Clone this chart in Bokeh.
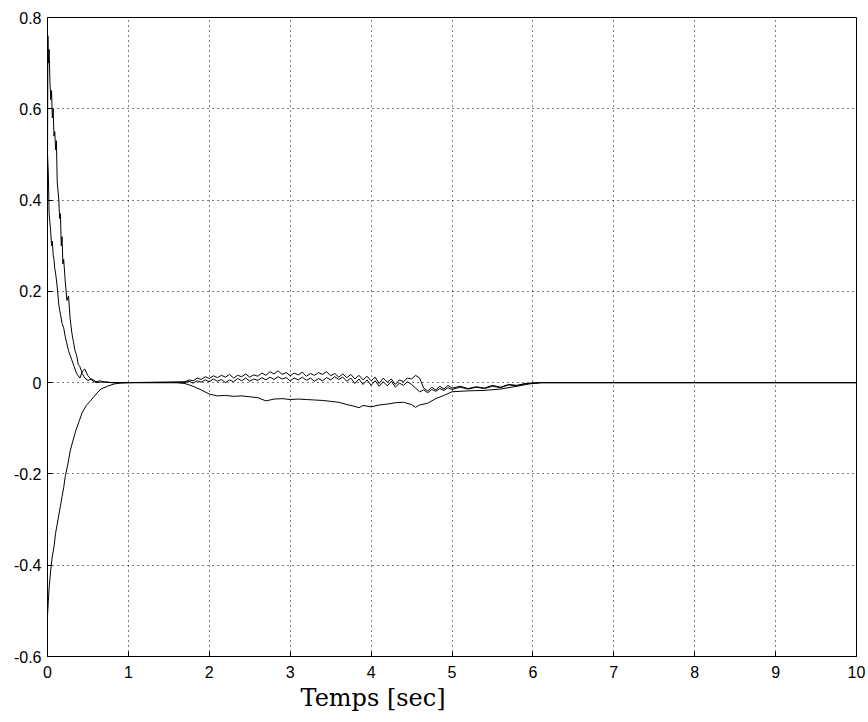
from bokeh.plotting import figure
from bokeh.models import Range1d, FixedTicker, Title
from bokeh.embed import file_html
from bokeh.resources import INLINE

# ---- data ----
# curve A: starts near 0.75
a_t = [0, 0.005, 0.01, 0.02, 0.03, 0.04, 0.05, 0.06, 0.07, 0.08, 0.09, 0.10, 0.11, 0.12,
       0.13, 0.14, 0.15, 0.16, 0.17, 0.18, 0.19, 0.20, 0.22, 0.24, 0.26, 0.28, 0.30, 0.32,
       0.34, 0.36, 0.38, 0.40, 0.43, 0.46, 0.50, 0.55, 0.60, 0.65, 0.70, 0.80, 1.0, 1.7,
       1.75, 1.80, 1.85, 1.90, 1.95, 2.00, 2.05, 2.10, 2.15, 2.20, 2.25, 2.30, 2.35, 2.40,
       2.45, 2.50, 2.55, 2.60, 2.65, 2.70, 2.75, 2.80, 2.85, 2.90, 2.95, 3.00, 3.05, 3.10,
       3.15, 3.20, 3.25, 3.30, 3.35, 3.40, 3.45, 3.50, 3.55, 3.60, 3.65, 3.70, 3.75, 3.80,
       3.85, 3.90, 3.95, 4.00, 4.05, 4.10, 4.15, 4.20, 4.25, 4.30, 4.35, 4.40, 4.45, 4.50,
       4.55, 4.60, 4.65, 4.70, 4.75, 4.80, 4.85, 4.90, 4.95, 5.00, 5.10, 5.20, 5.30, 5.40,
       5.50, 5.60, 5.70, 5.80, 5.90, 6.00, 6.10, 10.0]
a_v = [0.47, 0.76, 0.70, 0.73, 0.66, 0.62, 0.64, 0.58, 0.60, 0.54, 0.55, 0.51, 0.53, 0.44,
       0.42, 0.40, 0.36, 0.37, 0.30, 0.32, 0.26, 0.27, 0.22, 0.18, 0.19, 0.14, 0.11, 0.09,
       0.07, 0.06, 0.04, 0.035, 0.02, 0.01, 0.005, 0.008, 0.002, 0.004, 0.001, 0.0, 0.0, 0.002,
       0.006, 0.004, 0.010, 0.007, 0.013, 0.009, 0.015, 0.011, 0.016, 0.012, 0.018, 0.010, 0.016, 0.013,
       0.019, 0.012, 0.017, 0.014, 0.021, 0.016, 0.024, 0.019, 0.026, 0.018, 0.022, 0.015, 0.021, 0.017,
       0.023, 0.014, 0.020, 0.016, 0.022, 0.018, 0.024, 0.015, 0.020, 0.012, 0.019, 0.011, 0.018, 0.008,
       0.016, 0.006, 0.014, 0.004, 0.012, -0.002, 0.010, 0.001, 0.008, -0.004, 0.006, 0.002, 0.010, 0.008,
       0.016, 0.010, -0.012, -0.018, -0.010, -0.016, -0.008, -0.014, -0.006, -0.012, -0.008, -0.013, -0.009, -0.012,
       -0.006, -0.010, -0.004, -0.006, -0.002, -0.001, 0.0, 0.0]

# curve B: starts near 0.5
b_t = [0, 0.01, 0.02, 0.03, 0.04, 0.05, 0.06, 0.07, 0.08, 0.09, 0.10, 0.12, 0.14, 0.16,
       0.18, 0.20, 0.22, 0.24, 0.26, 0.28, 0.30, 0.33, 0.36, 0.40, 0.43, 0.46, 0.50, 0.55,
       0.60, 0.70, 0.80, 1.0, 1.7,
       1.75, 1.80, 1.85, 1.90, 1.95, 2.00, 2.05, 2.10, 2.15, 2.20, 2.25, 2.30, 2.35, 2.40,
       2.45, 2.50, 2.55, 2.60, 2.65, 2.70, 2.75, 2.80, 2.85, 2.90, 2.95, 3.00, 3.05, 3.10,
       3.15, 3.20, 3.25, 3.30, 3.35, 3.40, 3.45, 3.50, 3.55, 3.60, 3.65, 3.70, 3.75, 3.80,
       3.85, 3.90, 3.95, 4.00, 4.05, 4.10, 4.15, 4.20, 4.25, 4.30, 4.35, 4.40, 4.45, 4.50,
       4.55, 4.60, 4.65, 4.70, 4.75, 4.80, 4.85, 4.90, 4.95, 5.00, 5.10, 5.20, 5.30, 5.40,
       5.50, 5.60, 5.70, 5.80, 5.90, 6.00, 6.10, 10.0]
b_v = [0.50, 0.46, 0.37, 0.35, 0.33, 0.30, 0.31, 0.28, 0.27, 0.25, 0.24, 0.21, 0.17, 0.15,
       0.13, 0.12, 0.10, 0.085, 0.07, 0.06, 0.05, 0.035, 0.02, 0.01, 0.025, 0.03, 0.015, 0.005,
       0.0, 0.002, 0.0, 0.0, 0.0,
       0.003, -0.001, 0.004, 0.001, 0.006, 0.002, 0.008, 0.003, 0.007, 0.000, 0.006, 0.002, 0.009, 0.004,
       0.010, 0.003, 0.008, 0.005, 0.011, 0.006, 0.012, 0.007, 0.013, 0.008, 0.011, 0.004, 0.010, 0.006,
       0.012, 0.005, 0.010, 0.003, 0.009, 0.004, 0.011, 0.006, 0.013, 0.007, 0.012, 0.003, 0.010, -0.002,
       0.008, -0.004, 0.006, -0.006, 0.004, -0.008, 0.002, -0.007, 0.003, -0.010, -0.001, -0.006, 0.002, -0.004,
       -0.012, -0.020, -0.016, -0.022, -0.015, -0.019, -0.013, -0.017, -0.011, -0.015, -0.010, -0.014, -0.010, -0.013,
       -0.008, -0.011, -0.005, -0.007, -0.003, -0.001, 0.0, 0.0]

# curve C: starts near -0.5, negative bump between 1.7 and 6 s
c_t = [0, 0.01, 0.02, 0.03, 0.04, 0.06, 0.08, 0.10, 0.12, 0.14, 0.16, 0.18, 0.20, 0.22,
       0.25, 0.28, 0.31, 0.35, 0.39, 0.43, 0.48, 0.53, 0.60, 0.66, 0.74, 0.82, 0.90, 1.0,
       1.6, 1.7, 1.8, 1.9, 2.0, 2.1, 2.2, 2.3, 2.4, 2.5, 2.6, 2.7, 2.8, 2.9, 3.0, 3.1,
       3.2, 3.3, 3.4, 3.5, 3.6, 3.7, 3.8, 3.85, 3.9, 4.0, 4.1, 4.2, 4.3, 4.4, 4.5, 4.55,
       4.6, 4.7, 4.8, 4.9, 5.0, 5.2, 5.4, 5.6, 5.8, 5.95, 6.1, 10.0]
c_v = [-0.51, -0.48, -0.45, -0.43, -0.41, -0.38, -0.36, -0.33, -0.31, -0.29, -0.27, -0.25, -0.23, -0.205,
       -0.18, -0.15, -0.13, -0.105, -0.085, -0.065, -0.05, -0.04, -0.025, -0.014, -0.008, -0.003, -0.001, 0.0,
       0.0, -0.002, -0.008, -0.016, -0.025, -0.029, -0.028, -0.030, -0.029, -0.031, -0.033, -0.040, -0.036, -0.035, -0.037, -0.036,
       -0.037, -0.038, -0.039, -0.041, -0.043, -0.048, -0.052, -0.055, -0.050, -0.053, -0.049, -0.047, -0.044, -0.043, -0.048, -0.054,
       -0.049, -0.045, -0.035, -0.028, -0.020, -0.018, -0.017, -0.014, -0.008, -0.003, 0.0, 0.0]

x_ticks = [0, 1, 2, 3, 4, 5, 6, 7, 8, 9, 10]
y_ticks = [-0.6, -0.4, -0.2, 0, 0.2, 0.4, 0.6, 0.8]
y_tick_labels = {-0.6: "-0.6", -0.4: "-0.4", -0.2: "-0.2", 0: "0", 0.2: "0.2", 0.4: "0.4", 0.6: "0.6", 0.8: "0.8"}
x_label = "Temps [sec]"

# ---- figure ----
p = figure(width=868, height=722, output_backend="svg", toolbar_location=None,
           x_range=Range1d(0, 10), y_range=Range1d(-0.6, 0.8),
           min_border_left=47, min_border_right=12, min_border_top=17, min_border_bottom=66)
p.background_fill_color = "white"
p.border_fill_color = "white"
p.outline_line_color = "black"
p.outline_line_width = 1
p.outline_line_alpha = 1

for ax in (p.xaxis[0], p.yaxis[0]):
    ax.axis_line_color = "black"
    ax.major_tick_line_color = "black"
    ax.major_tick_in = 5
    ax.major_tick_out = 0
    ax.minor_tick_line_color = None
    ax.major_label_text_font = "Liberation Sans"
    ax.major_label_text_font_size = "16px"
    ax.major_label_text_color = "black"

p.xaxis.ticker = FixedTicker(ticks=x_ticks)
p.yaxis.ticker = FixedTicker(ticks=y_ticks)
p.yaxis.major_label_overrides = y_tick_labels
p.xaxis.major_label_standoff = 9
p.yaxis.major_label_standoff = 6

xt = Title(text=x_label, align="left", offset=253, standoff=2,
           text_font="DejaVu Serif", text_font_style="normal",
           text_font_size="24px", text_color="black")
p.add_layout(xt, "below")

p.xgrid.ticker = FixedTicker(ticks=x_ticks)
p.ygrid.ticker = FixedTicker(ticks=y_ticks)
for g in (p.xgrid[0], p.ygrid[0]):
    g.grid_line_color = "black"
    g.grid_line_dash = "1 4"
    g.grid_line_width = 1
    g.grid_line_alpha = 1

p.line(a_t, a_v, line_color="black", line_width=1)
p.line(b_t, b_v, line_color="black", line_width=1)
p.line(c_t, c_v, line_color="black", line_width=1)

open("out.html", "w").write(file_html(p, INLINE))
